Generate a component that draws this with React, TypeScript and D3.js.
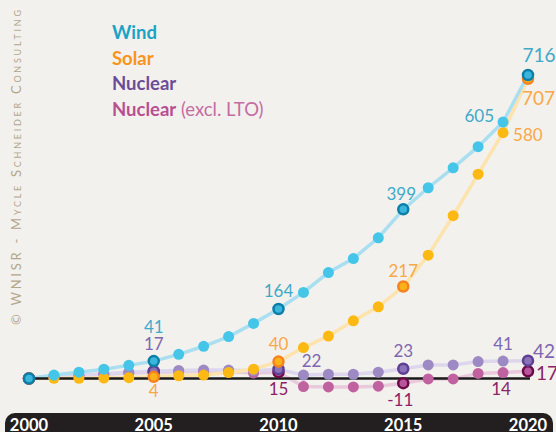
import * as d3 from "d3";

const years = d3.range(2000, 2021);
const wind = [0, 8, 15, 22, 31, 41, 57, 76, 99, 130, 164, 203, 250, 283, 332, 399, 450, 497, 547, 605, 716];
const solar = [0, 0.3, 0.6, 1, 2, 4, 6.5, 8, 14, 22, 40, 73, 100, 136, 169, 217, 291, 384, 482, 580, 707];
const nuclear = [0, 4, 7, 11, 15, 17, 19, 20, 20, 18, 22, 8, 10, 10, 15, 23, 32, 32, 40, 41, 42];
const nuclearExLTO = [0, 4, 7, 10, 13, 15, 16, 17, 16, 13, 15, -19, -20, -20, -18, -11, -1, -1, 12, 14, 17];
const tickYears = [2000, 2005, 2010, 2015, 2020];

type Series = {
  name: string;
  values: number[];
  line: string;
  dot: string;
  ring: string;
  core: string;
  label: string;
};

const series: Series[] = [
  { name: "excl", values: nuclearExLTO, line: "#e9cadc", dot: "#c0629f", ring: "#6b0a47", core: "#b8569c", label: "#8b2466" },
  { name: "nuclear", values: nuclear, line: "#ddd6ec", dot: "#9d8ac4", ring: "#5d3f94", core: "#8b71b8", label: "#7e67b0" },
  { name: "solar", values: solar, line: "#fde3ae", dot: "#fdb913", ring: "#f58220", core: "#fbb216", label: "#f8a848" },
  { name: "wind", values: wind, line: "#a9dff0", dot: "#45c5e8", ring: "#0b7fa8", core: "#3ab5dc", label: "#3fa9c9" },
];

// value labels: [series, year, dx, dy, anchor, size]
const labels: [string, number, number, number, string, number][] = [
  ["wind", 2005, 0, -28, "middle", 17],
  ["wind", 2010, 0, -12, "middle", 17],
  ["wind", 2015, -2, -9, "middle", 17],
  ["wind", 2019, -9, 0, "end", 17],
  ["wind", 2020, 11, -13, "middle", 19],
  ["solar", 2005, 0, 20, "middle", 17],
  ["solar", 2010, 0, -12, "middle", 17],
  ["solar", 2015, 0, -10, "middle", 17],
  ["solar", 2019, 10, 8, "start", 17],
  ["solar", 2020, -6, 26, "start", 19],
  ["nuclear", 2005, 0, -21, "middle", 17],
  ["nuclear", 2010, 33, -2, "middle", 17],
  ["nuclear", 2015, 0, -12, "middle", 17],
  ["nuclear", 2019, 0, -11, "middle", 17],
  ["nuclear", 2020, 5, -3, "start", 19],
  ["excl", 2010, 0, 23, "middle", 17],
  ["excl", 2015, -3, 23, "middle", 17],
  ["excl", 2019, -2, 22, "middle", 17],
  ["excl", 2020, 8, 9, "start", 19],
];

const legend = [
  { text: "Wind", color: "#1ba3c6" },
  { text: "Solar", color: "#f7941d" },
  { text: "Nuclear", color: "#6d4c97" },
  { text: "Nuclear", color: "#b84f92", extra: " (excl. LTO)" },
];

export default function App() {
  const width = 556;
  const height = 432;
  const x = d3.scaleLinear().domain([2000, 2020]).range([29, 528]);
  const y = d3.scaleLinear().domain([0, 716]).range([378.5, 75]);

  const line = d3
    .line<number>()
    .x((_, i) => x(years[i]))
    .y((d) => y(d));

  const font = "Lato, 'Open Sans', sans-serif";

  return (
    <svg
      width={width}
      height={height}
      style={{ position: "absolute", left: 0, top: 0, background: "#f3f1ed" }}
      fontFamily={font}
    >
      <rect width={width} height={height} fill="#f3f1ed" />

      {/* watermark */}
      <text
        transform="translate(21, 325) rotate(-90)"
        fontSize={13}
        fill="#b3a78c"
        style={{ fontVariant: "small-caps" }}
        textLength={315}
        lengthAdjust="spacing"
      >
        © WNISR - Mycle Schneider Consulting
      </text>

      {/* legend */}
      {legend.map((l, i) => (
        <text key={i} x={112} y={39 + i * 25.7} fontSize={18.5} fontWeight={700} fill={l.color}>
          {l.text}
          {l.extra && (
            <tspan fontWeight={400} fill="#c46ca3">
              {l.extra}
            </tspan>
          )}
        </text>
      ))}

      {/* lines */}
      {series.map((s) => (
        <path key={s.name} d={line(s.values) ?? ""} fill="none" stroke={s.line} strokeWidth={3.5} />
      ))}

      {/* zero line */}
      <line x1={x(2000)} x2={x(2020) + 2} y1={y(0)} y2={y(0)} stroke="#1a1a1a" strokeWidth={2.5} />

      {/* points */}
      {series.map((s) => (
        <g key={s.name}>
          {s.values.map((v, i) =>
            tickYears.includes(years[i]) ? (
              <circle key={i} cx={x(years[i])} cy={y(v)} r={5} fill={s.core} stroke={s.ring} strokeWidth={2.5} />
            ) : (
              <circle key={i} cx={x(years[i])} cy={y(v)} r={5.5} fill={s.dot} />
            )
          )}
        </g>
      ))}

      {/* value labels */}
      {labels.map(([name, yr, dx, dy, anchor, size], i) => {
        const s = series.find((d) => d.name === name)!;
        const v = s.values[yr - 2000];
        return (
          <text
            key={i}
            x={x(yr) + dx}
            y={y(v) + dy}
            textAnchor={anchor as any}
            fontSize={size}
            fill={s.label}
          >
            {v}
          </text>
        );
      })}

      {/* axis bar */}
      <rect x={5} y={413} width={548} height={30} rx={10} fill="#231f20" />
      {tickYears.map((t) => (
        <text key={t} x={x(t)} y={431} textAnchor="middle" fontSize={16.5} fontWeight={700} fill="#ffffff">
          {t}
        </text>
      ))}
    </svg>
  );
}
